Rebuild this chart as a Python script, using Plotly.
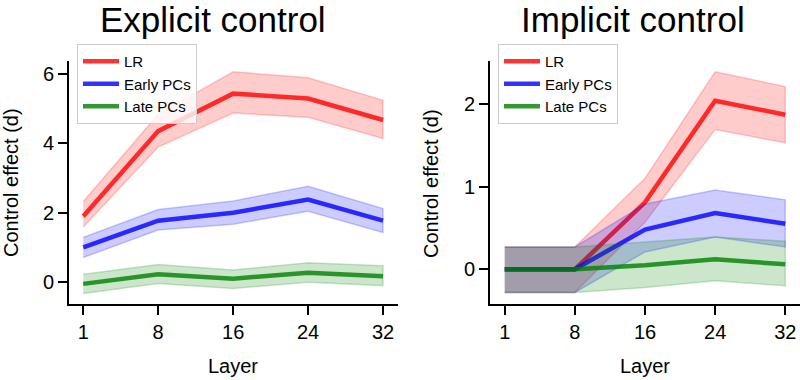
import plotly.graph_objects as go

layers = ["1", "8", "16", "24", "32"]
series_names = ["LR", "Early PCs", "Late PCs"]

# Explicit control
exp_lr = [1.9, 4.35, 5.43, 5.29, 4.67]
exp_lr_lo = [1.59, 3.89, 4.87, 4.75, 4.14]
exp_lr_hi = [2.32, 4.83, 6.06, 5.89, 5.24]
exp_early = [1.0, 1.77, 2.0, 2.38, 1.77]
exp_early_lo = [0.71, 1.5, 1.67, 2.04, 1.43]
exp_early_hi = [1.29, 2.09, 2.34, 2.76, 2.12]
exp_late = [-0.05, 0.23, 0.1, 0.27, 0.17]
exp_late_lo = [-0.33, -0.04, -0.18, 0.0, -0.1]
exp_late_hi = [0.23, 0.51, 0.35, 0.56, 0.47]

# Implicit control
imp_lr = [0.0, 0.0, 0.81, 2.04, 1.87]
imp_lr_lo = [-0.28, -0.28, 0.57, 1.69, 1.53]
imp_lr_hi = [0.27, 0.27, 1.1, 2.39, 2.21]
imp_early = [0.0, 0.0, 0.48, 0.68, 0.55]
imp_early_lo = [-0.28, -0.28, 0.21, 0.39, 0.27]
imp_early_hi = [0.27, 0.27, 0.79, 0.96, 0.84]
imp_late = [0.0, 0.0, 0.05, 0.12, 0.06]
imp_late_lo = [-0.28, -0.28, -0.22, -0.14, -0.2]
imp_late_hi = [0.27, 0.27, 0.33, 0.39, 0.34]

rgb = {"LR": "255,0,0", "Early PCs": "0,0,255", "Late PCs": "0,128,0"}

panels = [
    ("x", "y", "legend",
     [(exp_lr, exp_lr_lo, exp_lr_hi), (exp_early, exp_early_lo, exp_early_hi),
      (exp_late, exp_late_lo, exp_late_hi)]),
    ("x2", "y2", "legend2",
     [(imp_lr, imp_lr_lo, imp_lr_hi), (imp_early, imp_early_lo, imp_early_hi),
      (imp_late, imp_late_lo, imp_late_hi)]),
]

fig = go.Figure()
for xa, ya, leg, data in panels:
    for name, (mean, lo, hi) in zip(series_names, data):
        c = rgb[name]
        fig.add_trace(go.Scatter(
            x=layers + layers[::-1], y=hi + lo[::-1], fill="toself",
            fillcolor=f"rgba({c},0.2)", line=dict(color=f"rgba({c},0.2)", width=1.5),
            mode="lines", showlegend=False, hoverinfo="skip", xaxis=xa, yaxis=ya))
        fig.add_trace(go.Scatter(
            x=layers, y=mean, mode="lines", name=name,
            line=dict(color=f"rgba({c},0.8)", width=4.5),
            xaxis=xa, yaxis=ya, legend=leg))

FONT = "Arial, Liberation Sans, sans-serif"
axis_common = dict(showline=True, linecolor="black", linewidth=2, ticks="outside",
                   ticklen=9, tickwidth=2, tickcolor="black", showgrid=False,
                   zeroline=False, tickfont=dict(size=20, color="black", family=FONT),
                   mirror=False, automargin=False)

H = 380.0
W = 800.0
ydom = [1 - 304 / H, 1 - 61 / H]

legend_common = dict(xanchor="left", yanchor="top", bgcolor="rgba(255,255,255,0.8)",
                     bordercolor="#cccccc", borderwidth=1, itemwidth=36,
                     font=dict(size=15, family=FONT))

fig.update_layout(
    template="none",
    width=800, height=380, margin=dict(l=0, r=0, t=0, b=0),
    plot_bgcolor="white", paper_bgcolor="white",
    font=dict(family=FONT, color="black"),
    xaxis=dict(domain=[69 / W, 398 / W], type="category", categoryorder="array",
               categoryarray=layers, range=[-0.19, 4.2], anchor="y", **axis_common),
    yaxis=dict(domain=ydom, range=[-0.63, 6.37], tickvals=[0, 2, 4, 6], anchor="x",
               **axis_common),
    xaxis2=dict(domain=[490 / W, 1.0], type="category", categoryorder="array",
                categoryarray=layers, range=[-0.21, 4.21], anchor="y2", **axis_common),
    yaxis2=dict(domain=ydom, range=[-0.42, 2.52], tickvals=[0, 1, 2], anchor="x2",
                **axis_common),
    legend=dict(x=77 / W, y=1 - 44 / H, **legend_common),
    legend2=dict(x=498 / W, y=1 - 44 / H, **legend_common),
    showlegend=True,
)

ann = [
    dict(text="Explicit control", x=213 / W, y=1 - 20 / H, size=35),
    dict(text="Implicit control", x=633 / W, y=1 - 20 / H, size=35),
    dict(text="Layer", x=233 / W, y=1 - 366 / H, size=20),
    dict(text="Layer", x=645 / W, y=1 - 366 / H, size=20),
]
for a in ann:
    fig.add_annotation(text=a["text"], x=a["x"], y=a["y"], xref="paper", yref="paper",
                       xanchor="center", yanchor="middle", showarrow=False,
                       font=dict(size=a["size"], family=FONT, color="black"))
for xc in (11, 431):
    fig.add_annotation(text="Control effect (d)", x=xc / W, y=1 - 183 / H,
                       xref="paper", yref="paper", xanchor="center", yanchor="middle",
                       showarrow=False, textangle=-90,
                       font=dict(size=20, family=FONT, color="black"))

fig.write_html("out.html", config={"displayModeBar": False},
               post_script="document.body.style.margin='0';document.body.style.padding='0';")
